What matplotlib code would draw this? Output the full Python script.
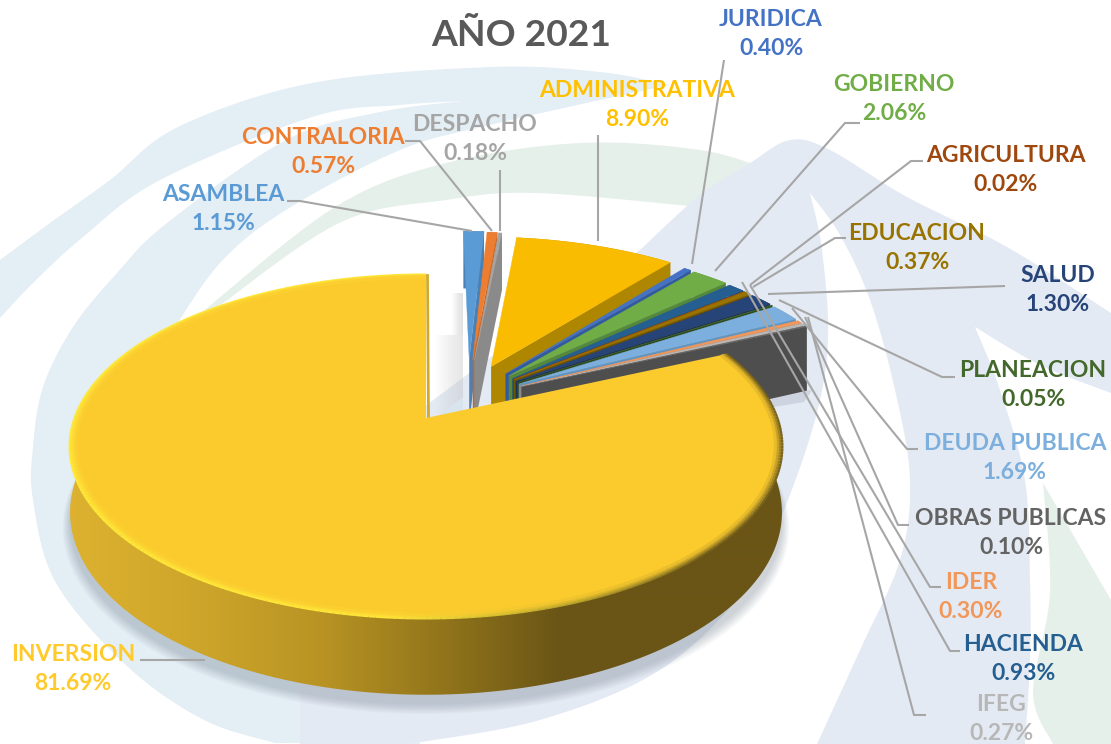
#!/usr/bin/env python3
import numpy as np
import matplotlib
matplotlib.use('Agg')
import matplotlib.pyplot as plt
from matplotlib.collections import LineCollection
from matplotlib.patches import Polygon

# data, clockwise from 12 o'clock
names = ['ASAMBLEA','CONTRALORIA','DESPACHO','ADMINISTRATIVA','JURIDICA','GOBIERNO','HACIENDA',
         'AGRICULTURA','EDUCACION','SALUD','PLANEACION','DEUDA PUBLICA','IDER','IFEG','OBRAS PUBLICAS','INVERSION']
values = [1.15,0.57,0.18,8.90,0.40,2.06,0.93,0.02,0.37,1.30,0.05,1.69,0.30,0.27,0.10,81.69]
title = 'AÑO 2021'

# styles
top_cols = ['#5B9BD5','#ED7D31','#A5A5A5','#F9BC00','#4472C4','#70AD47','#255E91','#9E480E','#997300',
            '#264478','#43682B','#7CAFDD','#F1975A','#B7B7B7','#636363','#FBCB2E']
wall_cols = ['#4a80b4','#c4682a','#8a8a8a','#AE8600','#335aa0','#55883a','#1c4a72','#7c380b','#6f5300',
             '#1b3157','#2f4a1e','#5f93c2','#c97c47','#969696','#4e4e4e','#8a6f1c']
txt_cols = top_cols[:3]+['#FFC000']+top_cols[4:15]+['#FFCA2B']

# label centre and leader line, in pixels
label_xy = [(223,209),(323,152),(475,139),(637,105),(771,34),(894,99),(1023,659),(1006,170),(917,248),
            (1058,290),(1033,385),(1015,458),(971,597),(1001,719),(1011,533),(73,669)]
leaders = [[(287,201),(300,201),(472,231)],
           [(405,141),(420,141),(492,231)],
           [(500,170),(500,231)],
           [(598,135),(598,241)],
           [(724,60),(692,264)],
           [(860,123),(845,123),(715,271)],
           [(960,651),(950,651),(742,282)],
           [(923,161),(911,161),(750,285)],
           [(846,238),(835,238),(753,287)],
           [(1005,286),(768,294)],
           [(955,377),(942,377),(779,300)],
           [(918,449),(907,449),(792,308)],
           [(941,587),(930,587),(750,285)],
           [(926,715),(914,715),(808,317)],
           [(909,525),(898,525),(805,317)],
           [(140,660),(205,660)]]

# pie projection
x0,y0 = 426,418
a,b,p = 166.8,351,0.166
depth = 64

def project(u,v,z=0):
    w = 1+p*v
    return x0+b*u/w, y0-a*v/w+depth*z/w

def smooth(pts,n=12):
    # catmull-rom through the given points
    pts = np.array(pts,dtype=float)
    P = np.vstack([pts[0],pts,pts[-1]])
    out = []
    for i in range(1,len(P)-2):
        t = np.linspace(0,1,n,endpoint=False)[:,None]
        out.append(0.5*(2*P[i]+(P[i+1]-P[i-1])*t+(2*P[i-1]-5*P[i]+4*P[i+1]-P[i+2])*t**2
                        +(3*P[i]-P[i-1]-3*P[i+1]+P[i+2])*t**3))
    out.append(pts[-1:])
    return np.vstack(out)

fig = plt.figure(figsize=(11.11,7.44),dpi=100)
ax = fig.add_axes([0,0,1,1])
ax.set_xlim(0,1111)
ax.set_ylim(744,0)
ax.axis('off')
plt.rcParams['font.family'] = ['Lato','DejaVu Sans']

# background swirl
blue = '#E4EEF5'
gray = '#E4EAF3'
green = '#E6F0EA'
shape = np.vstack([smooth([(0,260),(50,223),(110,180),(178,127),(312,83),(491,67),(600,72),(670,85)]),
                   smooth([(670,85),(600,100),(490,125),(400,150),(286,210),(220,263),(170,335)]),
                   [(200,450),(420,600),(420,744)],
                   smooth([(275,743),(204,720),(128,667),(56,583),(33,500),(33,447),(43,387),(73,327),
                           (117,273),(167,223),(286,140),(380,112),(464,101)]),
                   smooth([(464,101),(400,105),(312,117),(160,180),(83,237),(33,283),(0,318)])])
ax.fill(shape[:,0],shape[:,1],color=blue,lw=0,zorder=1)
shape = np.vstack([smooth([(201,313),(335,207),(446,163),(580,143),(700,150),(770,170)]),
                   [(700,207)],
                   smooth([(700,207),(536,193),(446,200),(339,223),(210,313)])])
ax.fill(shape[:,0],shape[:,1],color=green,lw=0,zorder=1.2)
shape = np.vstack([[(640,250)],
                   smooth([(640,250),(700,195),(750,163),(790,140),(830,150),(907,197),(1007,247),(1111,313)]),
                   [(1111,393)],
                   smooth([(1111,393),(1040,365),(975,327)]),
                   smooth([(975,327),(1000,390),(1025,480),(1030,580),(1030,660),(1025,744)]),
                   smooth([(817,744),(860,650),(900,560),(910,480),(895,390),(870,300),(840,235),(810,193)]),
                   smooth([(810,193),(822,250),(828,340),(815,420),(780,520),(745,590),(660,670),(540,720),(408,744)]),
                   [(300,744),(300,500),(500,350)]])
ax.fill(shape[:,0],shape[:,1],color=gray,lw=0,zorder=1.3)
shape = np.vstack([[(1043,483)],[(1111,600)],[(1111,744)],[(1053,744)],
                   smooth([(1053,744),(1033,693),(1050,593),(1043,483)])])
ax.fill(shape[:,0],shape[:,1],color=green,lw=0,zorder=1.4)

# slice angles, clockwise from north
ang = np.array(values,dtype=float)
ang = ang/ang.sum()*360
ends = np.cumsum(ang)
starts = ends-ang
mids = (starts+ends)/2
big = len(values)-1

def offset(i):
    if i==big:
        return 0.0,0.0
    d = np.radians(18+0.57*mids[i])
    r = 0.40-0.06*mids[i]/66
    return r*np.sin(d),r*np.cos(d)

def arc(i,r=1.0,n=None):
    n = n or max(int(ang[i]*2),6)
    th = np.radians(np.linspace(starts[i],ends[i],n))
    ou,ov = offset(i)
    return ou+r*np.sin(th),ov+r*np.cos(th)

# soft shadows
u,v = arc(big,1.0,200)
for k in np.linspace(0.02,0.0,8):
    sx,sy = project(u*(1+k),v*(1+k),1.0)
    ax.fill(np.r_[sx,x0],np.r_[sy+10+k*200,y0+depth],color='#5a6a7a',alpha=0.04,lw=0,zorder=2)
for k in range(10):
    ax.fill([463-3*k,463,463,463-3*k],[335,335,400,418],color='#c8c8c8',alpha=0.05,lw=0,zorder=2)
    ax.fill([463-1.2*k,463,463,463-1.2*k],[293,293,335,335],color='#c8c8c8',alpha=0.07,lw=0,zorder=2)
ax.fill([437,463,463],[417,397,412],color='#d9e5ee',lw=0,zorder=2.1)
ax.fill([700,812,804,720],[405,390,402,416],color='#8a96a6',alpha=0.25,lw=0,zorder=2)

# exploded slices, back to front
z = 3
for i in range(big):
    ou,ov = offset(i)
    au,av = arc(i)
    # right hand cut wall
    x1,y1 = project(ou,ov)
    x2,y2 = project(au[-1],av[-1])
    x3,y3 = project(au[-1],av[-1],1.1)
    x4,y4 = project(ou,ov,1.1)
    ax.fill([x1,x2,x3,x4],[y1,y2,y3,y4],color=wall_cols[i],lw=0,zorder=z)
    # outer wall
    tx,ty = project(au,av)
    bx,by = project(au,av,1.1)
    ax.fill(np.r_[tx,bx[::-1]],np.r_[ty,by[::-1]],color=wall_cols[i],lw=0,zorder=z)
    # top
    fx,fy = project(np.r_[ou,au],np.r_[ov,av])
    ax.fill(fx,fy,color=top_cols[i],lw=0.3,ec=top_cols[i],zorder=z+0.5)
    z += 1

# inversion wall, shaded along the screen x
u,v = arc(big,1.0,300)
tx,ty = project(u,v)
bx,by = project(u,v,1)
grad_x = np.linspace(60,790,365)
grad = np.stack([np.interp(grad_x,[67,200,320,430,560,790],c) for c in
                 ([222,205,185,150,106,106],[178,165,148,120,85,85],[48,42,36,28,22,22])],axis=1)/255
wall = Polygon(np.c_[np.r_[tx,bx[::-1]],np.r_[ty,by[::-1]]],transform=ax.transData)
im = ax.imshow(grad[None,:,:],extent=(60,790,720,250),aspect='auto',zorder=30,interpolation='bilinear')
im.set_clip_path(wall)
ax.set_xlim(0,1111)
ax.set_ylim(744,0)

# inversion top
fx,fy = project(np.r_[0,u],np.r_[0,v])
ax.fill(fx,fy,color=top_cols[big],lw=0,zorder=31)

# bevel on the rim
th = np.radians(np.linspace(starts[big],ends[big],300))
face = np.array([251,203,46])/255
for r,mix in [(1.0,1.0),(0.994,0.7),(0.988,0.4),(0.982,0.15)]:
    px,py = project(r*np.sin(th),r*np.cos(th))
    segs = np.stack([np.c_[px[:-1],py[:-1]],np.c_[px[1:],py[1:]]],axis=1)
    cols = []
    for k in range(len(th)-1):
        deg = np.degrees(th[k])
        if deg>185:
            c = np.array([255,232,58])/255
        else:
            c = np.array([120,98,28])/255
            # fades out going to the front
            f = np.clip((185-deg)/50,0,1)
            c = f*c+(1-f)*np.array([255,232,58])/255
        cols.append(mix*c+(1-mix)*face)
    ax.add_collection(LineCollection(segs,colors=cols,linewidths=2.2,zorder=32,capstyle='butt'))
ax.plot([fx[-1]+1.5,fx[0]+1.5],[fy[-1],fy[0]],color='#d2a92b',lw=2,zorder=30.5)

# leaders
for pts in leaders:
    pts = np.array(pts)
    ax.plot(pts[:,0],pts[:,1],color='#A6A6A6',lw=1.5,zorder=40,solid_capstyle='butt')

# labels
for i in range(len(names)):
    ax.text(label_xy[i][0],label_xy[i][1],'%s\n%.2f%%' %(names[i],values[i]),ha='center',va='center',
            color=txt_cols[i],fontsize=16.5,fontweight='bold',linespacing=1.5,zorder=41)
ax.text(521,35,title,ha='center',va='center',color='#595959',fontsize=26.8,fontweight='bold',zorder=41)

fig.savefig('out.png',dpi=100)
plt.close()
